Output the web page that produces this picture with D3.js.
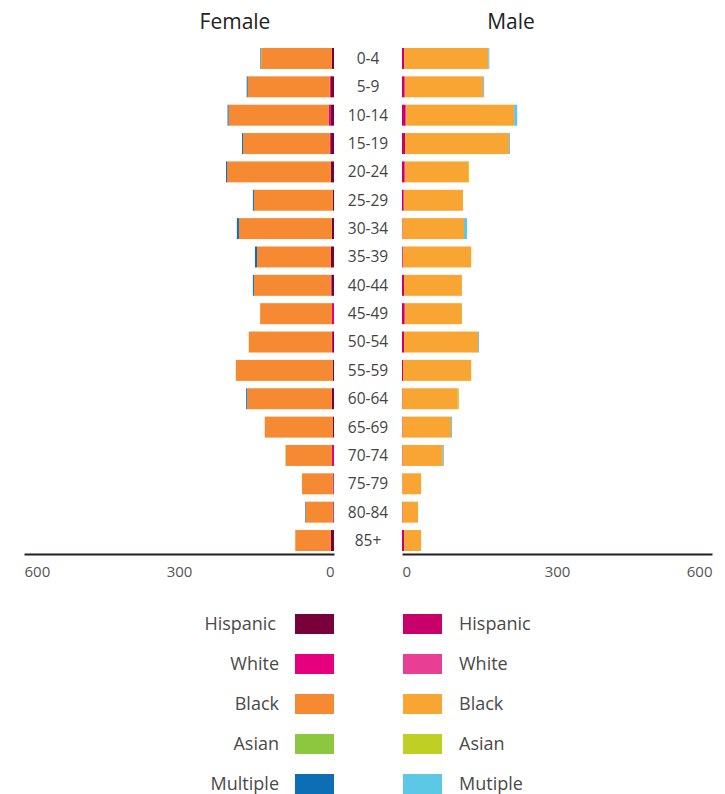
<!DOCTYPE html>
<html>
<head>
<meta charset="utf-8">
<script src="https://cdn.jsdelivr.net/npm/d3@7"></script>
<style>
  body { margin: 0; background: #fff; }
  svg { font-family: "Open Sans", "Noto Sans", sans-serif; }
</style>
</head>
<body>
<div id="chart"></div>
<script>
"use strict";

// age groups, top to bottom
const ages = ["0-4", "5-9", "10-14", "15-19", "20-24", "25-29", "30-34", "35-39", "40-44",
    "45-49", "50-54", "55-59", "60-64", "65-69", "70-74", "75-79", "80-84", "85+"];

const groups = ["Hispanic", "White", "Black", "Asian", "Multiple"];
const femaleLabels = ["Hispanic", "White", "Black", "Asian", "Multiple"];
const maleLabels = ["Hispanic", "White", "Black", "Asian", "Mutiple"];

// female counts per group (same order as ages)
const femaleHispanic = [4, 6, 6, 6, 6, 2, 4, 6, 5, 0, 2, 2, 4, 2, 0, 1, 1, 6];
const femaleWhite    = [0, 2, 4, 2, 0, 0, 0, 0, 1, 4, 2, 0, 0, 0, 4, 1, 1, 0];
const femaleBlack    = [137, 159, 194, 168, 201, 153, 180, 143, 149, 139, 161, 188, 164, 132, 89, 60, 53, 69];
const femaleAsian    = [1, 0, 0, 0, 0, 0, 0, 0, 0, 0, 0, 0, 0, 0, 1, 0, 0, 0];
const femaleMultiple = [1, 2, 2, 2, 2, 2, 4, 4, 2, 0, 0, 0, 2, 0, 0, 0, 1, 0];

// male counts per group
const maleHispanic = [4, 4, 6, 6, 4, 2, 1, 0, 4, 4, 4, 2, 1, 1, 1, 0, 1, 4];
const maleWhite    = [0, 2, 2, 0, 2, 2, 0, 2, 0, 2, 0, 0, 0, 0, 0, 1, 0, 0];
const maleBlack    = [163, 151, 209, 201, 122, 114, 119, 132, 112, 110, 143, 132, 107, 94, 78, 36, 30, 33];
const maleAsian    = [0, 0, 0, 0, 2, 0, 0, 0, 0, 0, 0, 0, 2, 0, 0, 0, 0, 0];
const maleMultiple = [2, 2, 6, 2, 0, 0, 6, 0, 0, 0, 2, 0, 0, 2, 2, 0, 0, 0];

const xTicks = [600, 300, 0];

const femaleColors = ["#7a003c", "#e6007e", "#f58a33", "#8dc63f", "#0d6db5"];
const maleColors = ["#c8006a", "#e83e94", "#f9a533", "#bfcf23", "#5dc8e6"];

const toRows = (series) => ages.map((age, i) => {
    const row = { age: age };
    groups.forEach((g, j) => { row[g] = series[j][i]; });
    return row;
});

const femaleRows = toRows([femaleHispanic, femaleWhite, femaleBlack, femaleAsian, femaleMultiple]);
const maleRows = toRows([maleHispanic, maleWhite, maleBlack, maleAsian, maleMultiple]);

const width = 725, height = 794;

const svg = d3.select("#chart")
    .append("svg")
    .attr("width", width)
    .attr("height", height);

const y = d3.scaleBand()
    .domain(ages)
    .range([44.3, 554.7])
    .paddingInner(0.26)
    .paddingOuter(0.13);

const xFemale = d3.scaleLinear().domain([0, 600]).range([334, 24]);
const xMale = d3.scaleLinear().domain([0, 600]).range([402, 712]);

const stack = d3.stack().keys(groups);

const drawSide = (rows, x, colors, female) => {
    const layers = stack(rows);
    const g = svg.append("g");
    g.selectAll("g.layer")
        .data(layers)
        .join("g")
        .attr("class", "layer")
        .attr("fill", (d, i) => colors[i])
        .selectAll("rect")
        .data(d => d)
        .join("rect")
        .attr("x", d => female ? x(d[1]) : x(d[0]))
        .attr("width", d => Math.abs(x(d[1]) - x(d[0])))
        .attr("y", d => y(d.data.age))
        .attr("height", y.bandwidth());

    // axis
    const axis = svg.append("g")
        .attr("transform", "translate(0,554)")
        .call(d3.axisBottom(x).tickValues(xTicks).tickSize(0).tickSizeOuter(0).tickPadding(12));
    axis.select(".domain").attr("stroke", "#231f20").attr("stroke-width", 2.2);
    axis.selectAll("text")
        .attr("font-size", 15)
        .attr("fill", "#555")
        .attr("font-family", "\"Open Sans\", sans-serif")
        .attr("text-anchor", d => {
            if (d === 300) return "middle";
            if (d === 0) return female ? "end" : "start";
            return female ? "start" : "end";
        });
};

drawSide(femaleRows, xFemale, femaleColors, true);
drawSide(maleRows, xMale, maleColors, false);

// age labels
svg.append("g")
    .selectAll("text")
    .data(ages)
    .join("text")
    .attr("x", 368)
    .attr("y", d => y(d) + y.bandwidth() / 2)
    .attr("dy", "0.35em")
    .attr("text-anchor", "middle")
    .attr("font-size", 15.5)
    .attr("fill", "#444")
    .text(d => d);

// titles
svg.append("text")
    .attr("x", 235).attr("y", 29)
    .attr("text-anchor", "middle")
    .attr("font-size", 21)
    .attr("fill", "#222")
    .text("Female");
svg.append("text")
    .attr("x", 511).attr("y", 29)
    .attr("text-anchor", "middle")
    .attr("font-size", 21)
    .attr("fill", "#222")
    .text("Male");

// legend
const legendY = d3.scalePoint().domain(groups).range([614, 774]);

const femaleLegend = svg.append("g");
femaleLegend.selectAll("rect")
    .data(groups)
    .join("rect")
    .attr("x", 295)
    .attr("y", d => legendY(d))
    .attr("width", 39)
    .attr("height", 20)
    .attr("fill", (d, i) => femaleColors[i]);
femaleLegend.selectAll("text")
    .data(femaleLabels)
    .join("text")
    .attr("x", (d, i) => i === 0 ? 276 : 279)
    .attr("y", (d, i) => legendY(groups[i]) + 10)
    .attr("dy", "0.35em")
    .attr("text-anchor", "end")
    .attr("font-size", 18)
    .attr("fill", "#4a4a4a")
    .text(d => d);

const maleLegend = svg.append("g");
maleLegend.selectAll("rect")
    .data(groups)
    .join("rect")
    .attr("x", 403)
    .attr("y", d => legendY(d))
    .attr("width", 39)
    .attr("height", 20)
    .attr("fill", (d, i) => maleColors[i]);
maleLegend.selectAll("text")
    .data(maleLabels)
    .join("text")
    .attr("x", 459)
    .attr("y", (d, i) => legendY(groups[i]) + 10)
    .attr("dy", "0.35em")
    .attr("text-anchor", "start")
    .attr("font-size", 18)
    .attr("fill", "#4a4a4a")
    .text(d => d);
</script>
</body>
</html>
